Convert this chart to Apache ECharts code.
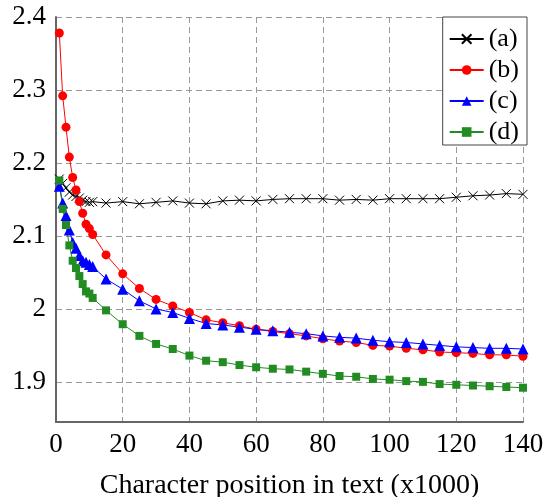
<!DOCTYPE html>
<html>
<head>
<meta charset="utf-8">
<script src="https://cdn.jsdelivr.net/npm/echarts@6/dist/echarts.min.js"></script>
<style>
html, body { margin: 0; padding: 0; background: #fff; }
#chart { width: 547px; height: 497px; }
</style>
</head>
<body>
<div id="chart"></div>
<script>
var positions = [1, 2, 3, 4, 5, 6, 7, 8, 9, 10, 11, 15, 20, 25, 30, 35, 40, 45, 50, 55, 60, 65, 70,
    75, 80, 85, 90, 95, 100, 105, 110, 115, 120, 125, 130, 135, 140];
var seriesNames = ['(a)', '(b)', '(c)', '(d)'];
var valuesA = [2.178, 2.172, 2.166, 2.160, 2.156, 2.154, 2.152, 2.149, 2.147, 2.146, 2.147,
    2.145, 2.147, 2.144, 2.146, 2.148, 2.145, 2.144, 2.148, 2.149, 2.148, 2.150, 2.151, 2.151,
    2.151, 2.149, 2.150, 2.149, 2.151, 2.151, 2.151, 2.151, 2.153, 2.155, 2.156, 2.158, 2.157];
var valuesB = [2.378, 2.292, 2.249, 2.208, 2.180, 2.163, 2.147, 2.131, 2.116, 2.110, 2.102,
    2.074, 2.048, 2.028, 2.013, 2.004, 1.995, 1.985, 1.981, 1.977, 1.972, 1.969, 1.966, 1.963,
    1.959, 1.956, 1.954, 1.950, 1.949, 1.946, 1.944, 1.941, 1.940, 1.939, 1.937, 1.937, 1.935];
var valuesC = [2.168, 2.145, 2.128, 2.108, 2.091, 2.083, 2.073, 2.066, 2.064, 2.061, 2.058,
    2.041, 2.027, 2.011, 2.000, 1.995, 1.987, 1.980, 1.978, 1.975, 1.972, 1.970, 1.968, 1.966,
    1.963, 1.961, 1.960, 1.957, 1.955, 1.954, 1.952, 1.950, 1.948, 1.947, 1.946, 1.946, 1.945];
var valuesD = [2.176, 2.137, 2.115, 2.087, 2.066, 2.056, 2.045, 2.034, 2.024, 2.021, 2.015,
    1.998, 1.979, 1.963, 1.952, 1.945, 1.936, 1.929, 1.927, 1.923, 1.920, 1.918, 1.917, 1.914,
    1.911, 1.908, 1.907, 1.904, 1.903, 1.901, 1.900, 1.897, 1.896, 1.895, 1.894, 1.893, 1.892];
var yTicks = [1.9, 2.0, 2.1, 2.2, 2.3, 2.4];

function pairs(vals) {
    return positions.map(function (x, i) { return [x, vals[i]]; });
}

var font = 'Liberation Serif';
var myChart = echarts.init(document.getElementById('chart'));
var gridLine = { show: true, lineStyle: { color: '#999', type: [6, 4], width: 1 } };

var option = {
    animation: false,
    textStyle: { fontFamily: font },
    grid: { left: 56, right: 24, top: 17, bottom: 75, outerBoundsMode: 'none', containLabel: false },
    legend: {
        orient: 'vertical',
        right: 20,
        top: 17,
        data: seriesNames,
        backgroundColor: '#fff',
        borderColor: '#444',
        borderWidth: 1,
        borderRadius: 0,
        padding: [9, 8, 0, 6],
        itemWidth: 34,
        itemHeight: 12,
        itemGap: 5,
        textStyle: { fontFamily: font, fontSize: 26, color: '#000', lineHeight: 24 }
    },
    xAxis: {
        type: 'value',
        min: 0,
        max: 140,
        interval: 20,
        name: 'Character position in text (x1000)',
        nameLocation: 'middle',
        nameGap: 50,
        nameTextStyle: { fontFamily: font, fontSize: 28, color: '#000' },
        axisLine: { show: true, onZero: false, lineStyle: { color: '#666', width: 2 } },
        axisTick: { show: false },
        axisLabel: { fontFamily: font, fontSize: 27, color: '#000', margin: 9 },
        splitLine: gridLine
    },
    yAxis: {
        type: 'value',
        min: 1.845,
        max: 2.4,
        axisLine: { show: true, onZero: false, lineStyle: { color: '#666', width: 2 } },
        axisTick: { show: false, customValues: yTicks },
        axisLabel: { fontFamily: font, fontSize: 27, color: '#000', margin: 10, customValues: yTicks },
        splitLine: gridLine
    },
    series: [
        {
            name: '(a)', type: 'line', data: pairs(valuesA),
            symbol: 'path://M0,0L10,10M10,0L0,10', symbolSize: 9,
            itemStyle: { color: '#000', borderColor: '#000', borderWidth: 1 },
            lineStyle: { color: '#000', width: 1 }
        },
        {
            name: '(b)', type: 'line', data: pairs(valuesB),
            symbol: 'circle', symbolSize: 9,
            itemStyle: { color: '#ff0000' },
            lineStyle: { color: '#ff0000', width: 1 }
        },
        {
            name: '(c)', type: 'line', data: pairs(valuesC),
            symbol: 'triangle', symbolSize: 11,
            itemStyle: { color: '#0000ff' },
            lineStyle: { color: '#0000ff', width: 1 }
        },
        {
            name: '(d)', type: 'line', data: pairs(valuesD),
            symbol: 'rect', symbolSize: 8,
            itemStyle: { color: '#228b22' },
            lineStyle: { color: '#228b22', width: 1 }
        }
    ]
};
myChart.setOption(option, true);
</script>
</body>
</html>
